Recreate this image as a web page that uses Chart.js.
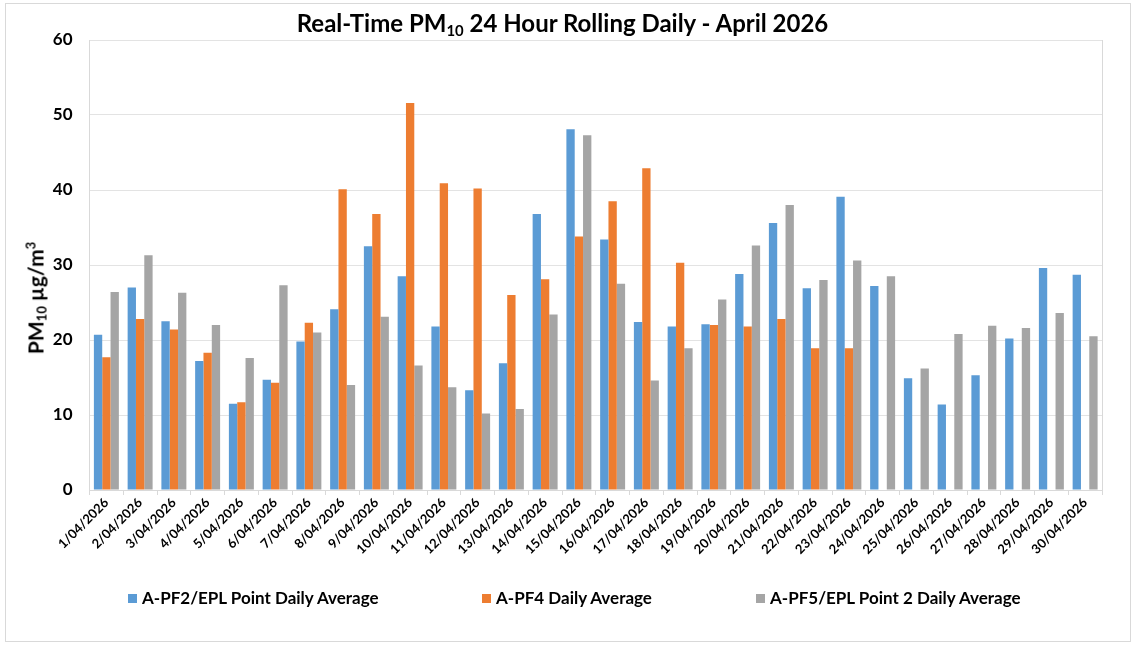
<!DOCTYPE html>
<html>
<head>
<meta charset="utf-8">
<script src="https://cdn.jsdelivr.net/npm/chart.js@4.4.1/dist/chart.umd.min.js"></script>
<style>
  html, body { margin:0; padding:0; background:#fff; }
  #wrap { position:relative; width:1135px; height:645px; overflow:hidden; font-family: Lato, "Open Sans", sans-serif; }
  #frame { position:absolute; left:5px; top:3px; width:1126px; height:639px; border:1px solid #d9d9d9; box-sizing:border-box; }
  #c { position:absolute; left:0; top:0; }
  #title { position:absolute; left:-5px; width:1135px; top:8px; text-align:center; font-weight:bold; font-size:24px; color:#000; line-height:30px; }
  #title sub, #ylab sub { font-size:0.62em; vertical-align:-0.25em; line-height:0; }
  #ylab sup { font-size:0.62em; vertical-align:0.6em; line-height:0; }
  #ylab { position:absolute; left:35px; top:298px; transform:translate(-50%,-50%) rotate(-90deg); white-space:nowrap; font-weight:bold; font-size:21px; color:#000; }
  .leg { position:absolute; top:588px; font-weight:bold; font-size:17px; color:#000; white-space:nowrap; line-height:20px; }
  .leg i { display:inline-block; width:9px; height:9px; margin-right:5px; vertical-align:1px; }
</style>
</head>
<body>
<div id="wrap">
  <div id="frame"></div>
  <canvas id="c" width="1135" height="645"></canvas>
  <div id="title">Real-Time PM<sub>10</sub> 24 Hour Rolling Daily - April 2026</div>
  <div id="ylab">PM<sub>10</sub> µg/m<sup>3</sup></div>
  <div class="leg" id="leg0" style="left:128px"><i style="background:#5B9BD5"></i>A-PF2/EPL Point Daily Average</div>
  <div class="leg" id="leg1" style="left:482px"><i style="background:#ED7D31"></i>A-PF4 Daily Average</div>
  <div class="leg" id="leg2" style="left:756px"><i style="background:#A5A5A5"></i>A-PF5/EPL Point 2 Daily Average</div>
</div>
<script>
const categories = ["1/04/2026","2/04/2026","3/04/2026","4/04/2026","5/04/2026","6/04/2026","7/04/2026","8/04/2026","9/04/2026","10/04/2026","11/04/2026","12/04/2026","13/04/2026","14/04/2026","15/04/2026","16/04/2026","17/04/2026","18/04/2026","19/04/2026","20/04/2026","21/04/2026","22/04/2026","23/04/2026","24/04/2026","25/04/2026","26/04/2026","27/04/2026","28/04/2026","29/04/2026","30/04/2026"];
const seriesNames = ["A-PF2/EPL Point Daily Average","A-PF4 Daily Average","A-PF5/EPL Point 2 Daily Average"];
const pf2 = [20.7,27.0,22.5,17.2,11.5,14.7,19.8,24.1,32.5,28.5,21.8,13.3,16.9,36.8,48.1,33.4,22.4,21.8,22.1,28.8,35.6,26.9,39.1,27.2,14.9,11.4,15.3,20.2,29.6,28.7];
const pf4 = [17.7,22.8,21.4,18.3,11.7,14.3,22.3,40.1,36.8,51.6,40.9,40.2,26.0,28.1,33.8,38.5,42.9,30.3,22.0,21.8,22.8,18.9,18.9,null,null,null,null,null,null,null];
const pf5 = [26.4,31.3,26.3,22.0,17.6,27.3,21.0,14.0,23.1,16.6,13.7,10.2,10.8,23.4,47.3,27.5,14.6,18.9,25.4,32.6,38.0,28.0,30.6,28.5,16.2,20.8,21.9,21.6,23.6,20.5];
const yTicks = [0,10,20,30,40,50,60];

const colors = ["#5B9BD5","#ED7D31","#A5A5A5"];
const FONT = 'Lato, "Open Sans", sans-serif';

const plotBorder = {
  id:'plotBorder',
  afterDraw(chart){
    const {ctx, chartArea:a} = chart;
    ctx.save();
    ctx.strokeStyle = '#d9d9d9';
    ctx.lineWidth = 1;
    ctx.beginPath();
    ctx.moveTo(Math.round(a.right)+0.5, a.top);
    ctx.lineTo(Math.round(a.right)+0.5, a.bottom);
    ctx.stroke();
    ctx.restore();
  }
};

new Chart(document.getElementById('c'), {
  type:'bar',
  data:{
    labels: categories,
    datasets: [pf2,pf4,pf5].map((d,i)=>({
      label: seriesNames[i],
      data: d,
      backgroundColor: colors[i],
      borderWidth: 0,
      barPercentage: 1.0,
      categoryPercentage: 0.74
    }))
  },
  options:{
    responsive:false,
    animation:false,
    devicePixelRatio:1,
    layout:{ padding:{ left:0, right:33, top:40, bottom:0 } },
    plugins:{ legend:{ display:false }, title:{ display:false }, tooltip:{ enabled:false } },
    scales:{
      x:{
        grid:{ display:true, drawOnChartArea:false, drawTicks:true, tickLength:5, color:'#d9d9d9', offset:true },
        border:{ display:true, color:'#d9d9d9' },
        ticks:{ minRotation:45, maxRotation:45, autoSkip:false, padding:0, color:'#000', font:{ family:FONT, weight:'bold', size:13 } },
        afterFit(s){ s.height = 155; }
      },
      y:{
        min:0, max:60,
        afterBuildTicks(s){ s.ticks = yTicks.map(v=>({value:v})); },
        grid:{ color:'#e3e3e3', drawTicks:false },
        border:{ display:true, color:'#d9d9d9' },
        ticks:{ padding:17, color:'#000', font:{ family:FONT, weight:'bold', size:17 } },
        afterFit(s){ s.width = 89.5; }
      }
    }
  },
  plugins:[plotBorder]
});
</script>
</body>
</html>
